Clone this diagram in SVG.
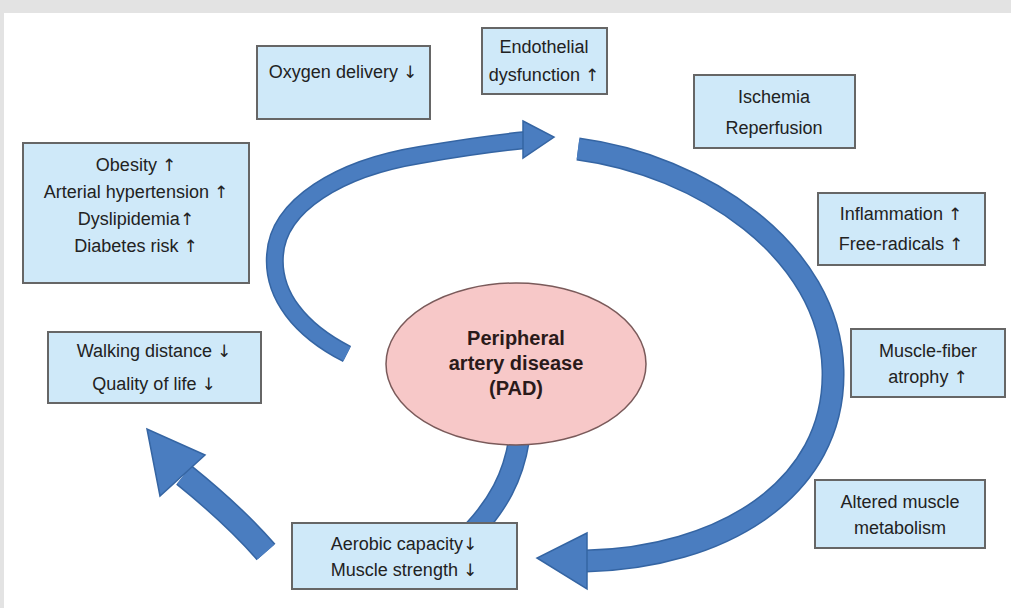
<svg xmlns="http://www.w3.org/2000/svg" width="1011" height="608" viewBox="0 0 1011 608">
<style>
.box{fill:#cfe9f9;stroke:#666;stroke-width:2}
.t{font-family:"Liberation Sans","Open Sans",sans-serif;font-size:18px;fill:#222;text-anchor:middle}
.a{font-family:"DejaVu Sans",sans-serif;font-size:17px}
.b{font-family:"Liberation Sans","Open Sans",sans-serif;font-size:20px;font-weight:bold;fill:#2a1a1a;text-anchor:middle}
.so{fill:none;stroke:#3565a3;stroke-linecap:butt}
.si{fill:none;stroke:#4a7dc0;stroke-linecap:butt}
.head{fill:#4a7dc0;stroke:#3565a3;stroke-width:1.5;stroke-linejoin:miter}
</style>
<rect x="0" y="0" width="1011" height="608" fill="#ffffff"/>
<rect x="0" y="0" width="1011" height="13" fill="#e3e3e3"/>
<rect x="0" y="0" width="4" height="608" fill="#e3e3e3"/>
<g id="connectors">
  <path class="so" stroke-width="18" d="M 347 354 C 300 330 272 295 275 255 C 278 205 340 168 420 155 C 460 148 495 143 526 140"/>
  <path class="si" stroke-width="15" d="M 347 354 C 300 330 272 295 275 255 C 278 205 340 168 420 155 C 460 148 495 143 526 140"/>
  <polygon class="head" points="523,121 554,137 523,158"/>
  <path class="so" stroke-width="23" d="M 578 149 C 700 165 830 250 833 370 C 836 490 720 558 586 561"/>
  <path class="si" stroke-width="20" d="M 578 149 C 700 165 830 250 833 370 C 836 490 720 558 586 561"/>
  <polygon class="head" points="587,533 537,558 587,589"/>
  <path class="so" stroke-width="22" d="M 519 440 C 513 478 497 505 474 530"/>
  <path class="si" stroke-width="19" d="M 519 440 C 513 478 497 505 474 530"/>
  <path class="so" stroke-width="25" d="M 266 552 C 240 522 215 500 184 475"/>
  <path class="si" stroke-width="22" d="M 266 552 C 240 522 215 500 184 475"/>
  <polygon class="head" points="205,455 147,429 160,496"/>
</g>
<g id="oxygen">
  <rect class="box" x="257" y="46" width="173" height="73"/>
  <text class="t" x="343" y="78">Oxygen delivery <tspan class="a">↓</tspan></text>
</g>
<g id="endothelial">
  <rect class="box" x="482" y="28" width="125" height="66"/>
  <text class="t" x="544" y="53">Endothelial</text>
  <text class="t" x="544" y="81">dysfunction <tspan class="a">↑</tspan></text>
</g>
<g id="ischemia">
  <rect class="box" x="694" y="75" width="161" height="73"/>
  <text class="t" x="774" y="103">Ischemia</text>
  <text class="t" x="774" y="134">Reperfusion</text>
</g>
<g id="inflammation">
  <rect class="box" x="818" y="193" width="167" height="72"/>
  <text class="t" x="901" y="220">Inflammation <tspan class="a">↑</tspan></text>
  <text class="t" x="901" y="250">Free-radicals <tspan class="a">↑</tspan></text>
</g>
<g id="risk">
  <rect class="box" x="23" y="143" width="226" height="140"/>
  <text class="t" x="136" y="171">Obesity <tspan class="a">↑</tspan></text>
  <text class="t" x="136" y="198">Arterial hypertension <tspan class="a">↑</tspan></text>
  <text class="t" x="136" y="225">Dyslipidemia<tspan class="a">↑</tspan></text>
  <text class="t" x="136" y="252">Diabetes risk <tspan class="a">↑</tspan></text>
</g>
<g id="walking">
  <rect class="box" x="48" y="332" width="213" height="71"/>
  <text class="t" x="154" y="357">Walking distance <tspan class="a">↓</tspan></text>
  <text class="t" x="154" y="390">Quality of life <tspan class="a">↓</tspan></text>
</g>
<g id="atrophy">
  <rect class="box" x="851" y="329" width="154" height="68"/>
  <text class="t" x="928" y="357">Muscle-fiber</text>
  <text class="t" x="928" y="383">atrophy <tspan class="a">↑</tspan></text>
</g>
<g id="metabolism">
  <rect class="box" x="815" y="480" width="170" height="68"/>
  <text class="t" x="900" y="508">Altered muscle</text>
  <text class="t" x="900" y="534">metabolism</text>
</g>
<g id="aerobic">
  <rect class="box" x="292" y="523" width="225" height="66"/>
  <text class="t" x="404" y="550">Aerobic capacity<tspan class="a">↓</tspan></text>
  <text class="t" x="404" y="576">Muscle strength <tspan class="a">↓</tspan></text>
</g>
<g id="pad">
  <ellipse cx="516" cy="364" rx="130" ry="81" fill="#f7c8c8" stroke="#7a5a5a" stroke-width="1.5"/>
  <text class="b" x="516" y="345">Peripheral</text>
  <text class="b" x="516" y="370">artery disease</text>
  <text class="b" x="516" y="395">(PAD)</text>
</g>
</svg>
